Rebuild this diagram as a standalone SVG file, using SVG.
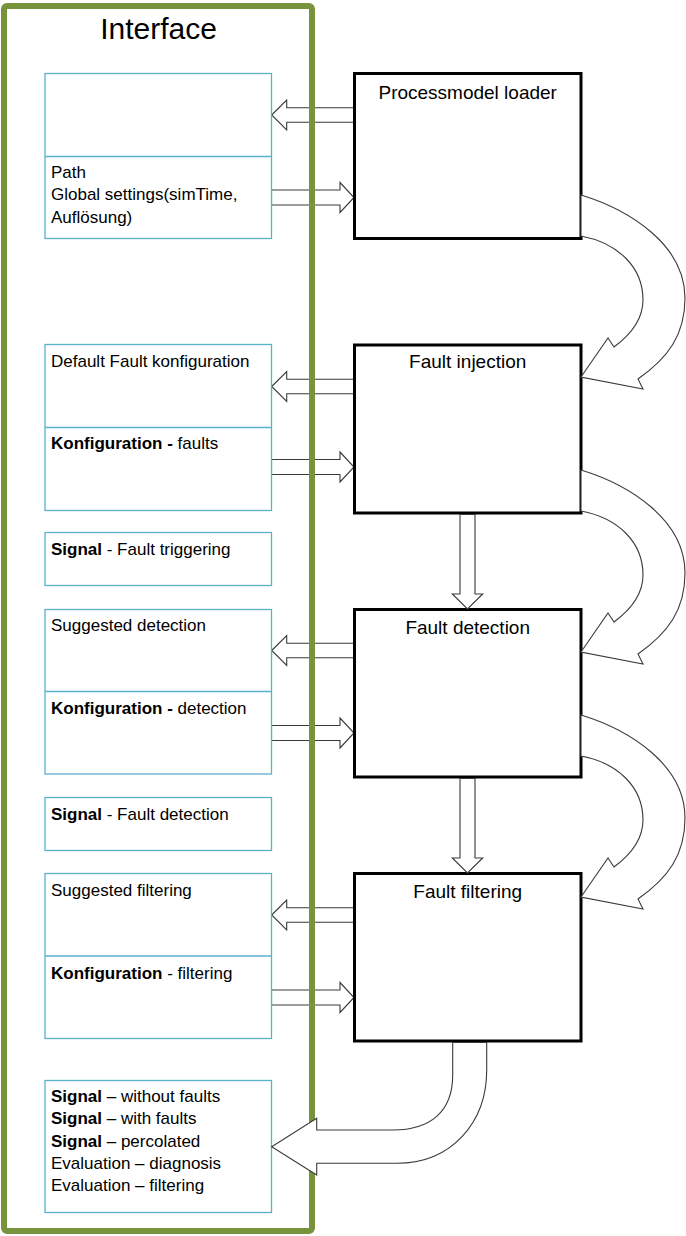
<svg xmlns="http://www.w3.org/2000/svg" width="686" height="1236" viewBox="0 0 686 1236">
<defs>
<style>
.t{font-family:"Liberation Sans",Arial,sans-serif;font-size:17px;fill:#000}
.b{font-weight:bold}
.ttl{font-family:"Liberation Sans",Arial,sans-serif;font-size:19px;fill:#000;text-anchor:middle}
.blue{fill:#fff;stroke:#5BB1CB;stroke-width:1.3}
.div{stroke:#5BB1CB;stroke-width:1.3}
.blk{fill:#fff;stroke:#000;stroke-width:3}
.arr{fill:#fff;stroke:#3a3a3a;stroke-width:1.1;stroke-linejoin:miter}
</style>
</defs>
<rect width="686" height="1236" fill="#fff"/>

<g id="connectors-horizontal">
<polygon class="arr" points="271.7,115 286.7,100 286.7,107.7 354,107.7 354,122.3 286.7,122.3 286.7,130"/>
<polygon class="arr" points="271.5,190 340,190 340,182.5 354,197.5 340,212.5 340,205 271.5,205"/>
<polygon class="arr" points="271.7,386.5 286.7,371.5 286.7,379.2 354,379.2 354,393.8 286.7,393.8 286.7,401.5"/>
<polygon class="arr" points="271.5,459.5 340,459.5 340,452 354,467 340,482 340,474.5 271.5,474.5"/>
<polygon class="arr" points="271.7,650.5 286.7,635.5 286.7,643.2 354,643.2 354,657.8 286.7,657.8 286.7,665.5"/>
<polygon class="arr" points="271.5,725.5 340,725.5 340,718 354,733 340,748 340,740.5 271.5,740.5"/>
<polygon class="arr" points="271.7,915 286.7,900 286.7,907.7 354,907.7 354,922.3 286.7,922.3 286.7,930"/>
<polygon class="arr" points="271.5,990 340,990 340,982.5 354,997.5 340,1012.5 340,1005 271.5,1005"/>
</g>

<g id="interface">
<rect x="4" y="6" width="308" height="1225" rx="3" fill="none" stroke="#77933C" stroke-width="6"/>
<text x="158.5" y="38.5" font-family="Liberation Sans,Arial,sans-serif" font-size="30" text-anchor="middle">Interface</text>
</g>

<g id="box-loader-io">
<rect class="blue" x="45" y="73.5" width="226.5" height="165"/>
<line class="div" x1="45" y1="156.5" x2="271.5" y2="156.5"/>
<text class="t" x="51" y="178">Path</text>
<text class="t" x="51" y="200">Global settings(simTime,</text>
<text class="t" x="51" y="222.5">Auflösung)</text>
</g>

<g id="box-injection-io">
<rect class="blue" x="45" y="344.5" width="226.5" height="166"/>
<line class="div" x1="45" y1="427.5" x2="271.5" y2="427.5"/>
<text class="t" x="51" y="367">Default Fault konfiguration</text>
<text class="t" x="51" y="449"><tspan class="b">Konfiguration -</tspan> faults</text>
</g>

<g id="box-signal-trigger">
<rect class="blue" x="45" y="532.5" width="226.5" height="53"/>
<text class="t" x="51" y="555"><tspan class="b">Signal</tspan> - Fault triggering</text>
</g>

<g id="box-detection-io">
<rect class="blue" x="45" y="609.5" width="226.5" height="164.5"/>
<line class="div" x1="45" y1="691.5" x2="271.5" y2="691.5"/>
<text class="t" x="51" y="631">Suggested detection</text>
<text class="t" x="51" y="714"><tspan class="b">Konfiguration -</tspan> detection</text>
</g>

<g id="box-signal-detection">
<rect class="blue" x="45" y="797.5" width="226.5" height="53"/>
<text class="t" x="51" y="820"><tspan class="b">Signal</tspan> - Fault detection</text>
</g>

<g id="box-filtering-io">
<rect class="blue" x="45" y="873.5" width="226.5" height="165"/>
<line class="div" x1="45" y1="956" x2="271.5" y2="956"/>
<text class="t" x="51" y="896">Suggested filtering</text>
<text class="t" x="51" y="979"><tspan class="b">Konfiguration</tspan> - filtering</text>
</g>

<g id="box-results">
<rect class="blue" x="45" y="1080.5" width="226.5" height="132"/>
<text class="t" x="51" y="1102"><tspan class="b">Signal</tspan> – without faults</text>
<text class="t" x="51" y="1124.3"><tspan class="b">Signal</tspan> – with faults</text>
<text class="t" x="51" y="1146.6"><tspan class="b">Signal</tspan> – percolated</text>
<text class="t" x="51" y="1169">Evaluation – diagnosis</text>
<text class="t" x="51" y="1191.3">Evaluation – filtering</text>
</g>

<g id="node-loader">
<rect class="blk" x="354.5" y="73.5" width="226.5" height="165"/>
<text class="ttl" x="467.7" y="98.5">Processmodel loader</text>
</g>

<g id="node-injection">
<rect class="blk" x="354.5" y="345" width="226.5" height="168"/>
<text class="ttl" x="467.7" y="368">Fault injection</text>
</g>

<g id="node-detection">
<rect class="blk" x="354.5" y="609.5" width="226.5" height="167.5"/>
<text class="ttl" x="467.7" y="633.5">Fault detection</text>
</g>

<g id="node-filtering">
<rect class="blk" x="354.5" y="873.5" width="226.5" height="167.5"/>
<text class="ttl" x="467.7" y="898">Fault filtering</text>
</g>

<g id="connectors">
<!-- vertical arrows -->
<polygon class="arr" points="460,514.5 475,514.5 475,594 482.7,594 467.5,609 452.3,594 460,594"/>
<polygon class="arr" points="460,778.5 475,778.5 475,858 482.7,858 467.5,873 452.3,858 460,858"/>
<!-- curved arrows -->
<path class="arr" d="M581,195 C630,210 685,245 685,298 C685,335 668,358 638,379 L643,389 L581,377 L608,338 L614,347 C633,333 643,317 643,300 C643,267 618,243 581,236 Z"/>
<path class="arr" d="M581,470 C630,485 685,520 685,573 C685,610 668,633 638,654 L643,664 L581,652 L608,613 L614,622 C633,608 643,592 643,575 C643,542 618,518 581,511 Z"/>
<path class="arr" d="M581,715 C630,730 685,765 685,818 C685,855 668,878 638,899 L643,909 L581,897 L608,858 L614,867 C633,853 643,837 643,820 C643,787 618,763 581,756 Z"/>
<!-- bottom arrow -->
<path class="arr" d="M452.7,1042.5 L452.7,1075 C452.7,1112 430,1130 393,1130 L316.7,1130 L316.7,1118.3 L271.7,1146.7 L316.7,1175 L316.7,1163.3 L397,1163.3 C452,1163.3 486.7,1122 486.7,1070 L486.7,1042.5 Z"/>
</g>
</svg>
